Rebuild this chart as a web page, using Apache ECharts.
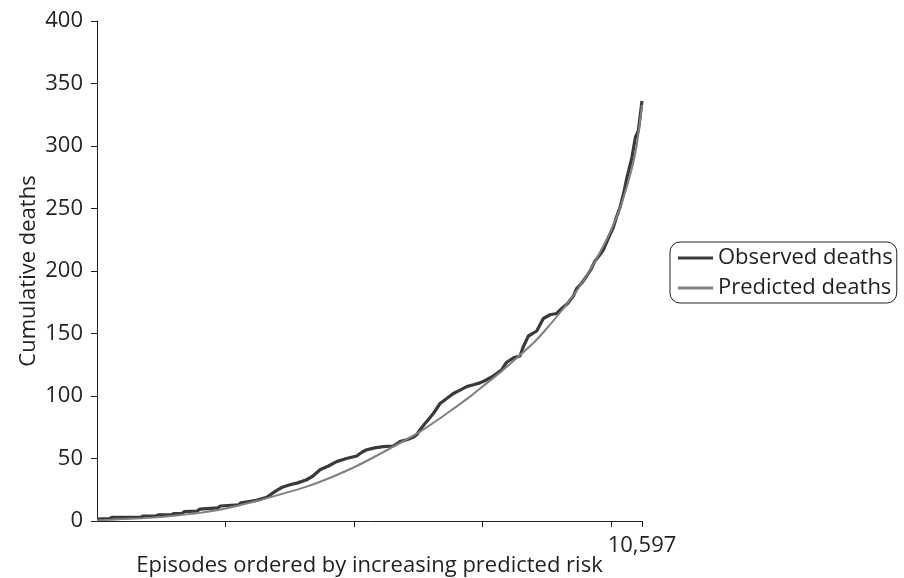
<!DOCTYPE html>
<html>
<head>
<meta charset="utf-8">
<script src="https://cdn.jsdelivr.net/npm/echarts@6/dist/echarts.min.js"></script>
<style>
html,body{margin:0;padding:0;background:#fff;}
#chart{width:904px;height:578px;}
</style>
</head>
<body>
<div id="chart"></div>
<script>
// Episodes (x) and cumulative deaths (y)
const observedDeaths = [
  [0,1.5],[250,2],[300,3],[850,3],[900,4],[1150,4],[1200,5],[1450,5],[1500,6],[1650,6],
  [1700,7.5],[1950,8],[2000,9.5],[2350,10.5],[2400,12],[2750,13],[2800,14.5],[3105,16.5],
  [3300,19],[3494,24.5],[3600,27],[3753,29],[3900,30.5],[4077,33],[4200,36],[4336,41],
  [4500,44],[4660,47.5],[4850,50],[5050,52],[5150,55],[5244,57],[5400,58.5],[5568,59.5],
  [5762,60],[5892,63.5],[6022,65],[6150,67],[6216,69],[6281,73],[6378,78],[6460,82],
  [6540,86],[6670,94],[6800,98],[6929,102],[7050,104.5],[7189,107.5],[7320,109],[7448,110.5],
  [7578,113],[7707,116],[7869,121],[7966,127],[8100,130.5],[8225,132],[8290,139.5],[8388,148],
  [8470,150],[8550,152],[8679,162],[8809,165],[8939,166],[9036,170],[9150,174],[9262,180],
  [9327,186],[9420,190],[9522,196],[9600,201],[9683,208],[9760,212],[9846,217],[9940,226],
  [10040,235],[10100,243],[10170,251],[10240,262],[10300,274],[10397,290],[10469,307],
  [10525,312],[10597,336]
];
const predictedDeaths = [
  [0,0.5],[500,1.5],[1000,2.5],[1500,4.2],[2000,6.5],[2500,10],[3105,16],[3500,20.5],
  [4077,27.5],[4500,34],[5050,44],[5697,58],[6281,71.5],[6800,86],[7253,99.5],[7448,106],
  [7800,117.5],[8096,128],[8500,143],[8744,154],[9067,170],[9392,188],[9716,210],[10000,233],
  [10200,254],[10400,282],[10500,302],[10597,333]
];
const seriesNames = ['Observed deaths','Predicted deaths'];
const xTickValues = [2500,5000,7500,10000,10597];
const xLabelValues = [10597];
const xMax = 10597;
const yMax = 400;
const yInterval = 50;

const FONT = 'Open Sans';
const TXT = '#231f20';
const chart = echarts.init(document.getElementById('chart'), null, {renderer:'canvas'});
chart.setOption({
  animation:false,
  backgroundColor:'#fff',
  textStyle:{fontFamily:FONT},
  grid:{left:97,right:262,top:21,bottom:57,containLabel:false,outerBoundsMode:'none'},
  legend:{
    orient:'vertical',left:670,top:242,
    icon:'rect',itemWidth:35,itemHeight:3,itemGap:8,
    padding:[5,4,4,8],
    borderColor:'#231f20',borderWidth:1,borderRadius:10,
    textStyle:{fontFamily:FONT,fontSize:22,color:TXT,lineHeight:22},
    data:seriesNames
  },
  xAxis:{
    type:'value',min:0,max:xMax,
    name:'Episodes ordered by increasing predicted risk',
    nameLocation:'middle',nameGap:34,nameMoveOverlap:false,
    nameTextStyle:{fontFamily:FONT,fontSize:22,color:TXT},
    splitLine:{show:false},
    axisLine:{lineStyle:{color:'#231f20',width:1}},
    axisTick:{show:true,length:6,customValues:xTickValues,lineStyle:{color:'#231f20'}},
    axisLabel:{show:true,customValues:xLabelValues,margin:14,fontFamily:FONT,fontSize:22,color:TXT,
      formatter:v=>v.toLocaleString('en-US')}
  },
  yAxis:{
    type:'value',min:0,max:yMax,interval:yInterval,
    name:'Cumulative deaths',nameLocation:'middle',nameGap:57,nameRotate:90,nameMoveOverlap:false,
    nameTextStyle:{fontFamily:FONT,fontSize:22,color:TXT},
    splitLine:{show:false},
    axisLine:{show:true,lineStyle:{color:'#231f20',width:1}},
    axisTick:{show:true,length:6,lineStyle:{color:'#231f20'}},
    axisLabel:{margin:14,fontFamily:FONT,fontSize:22,color:TXT}
  },
  series:[
    {name:seriesNames[0],type:'line',data:observedDeaths,symbol:'none',
     lineStyle:{color:'#3a3a3a',width:3.2},itemStyle:{color:'#3a3a3a'},z:2},
    {name:seriesNames[1],type:'line',data:predictedDeaths,symbol:'none',smooth:0.3,
     lineStyle:{color:'#808080',width:2},itemStyle:{color:'#808080'},z:3}
  ]
});
</script>
</body>
</html>
